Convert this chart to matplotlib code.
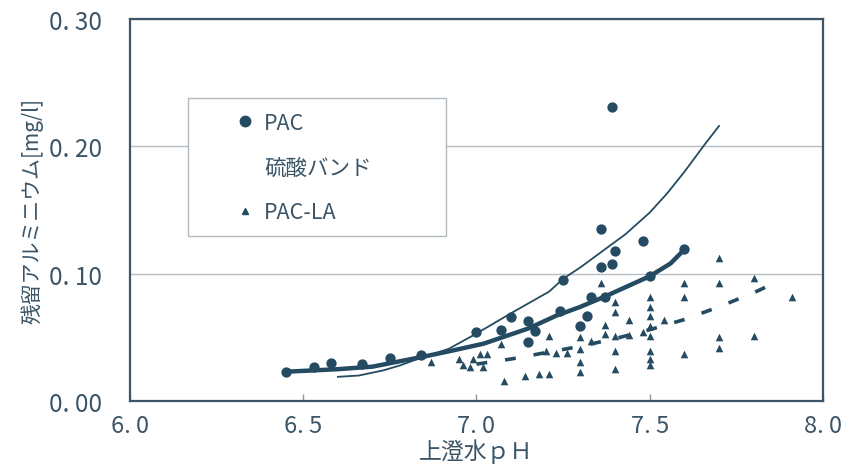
import matplotlib
matplotlib.use("Agg")
import matplotlib.pyplot as plt
from matplotlib.lines import Line2D
from matplotlib.patches import Rectangle

plt.rcParams['font.family'] = ['Noto Sans CJK JP', 'DejaVu Sans']

# PAC 測定値
pac_ph = [6.45, 6.53, 6.58, 6.67, 6.75, 6.84, 7.00, 7.07, 7.10, 7.15, 7.15, 7.17,
          7.24, 7.25, 7.30, 7.32, 7.33, 7.36, 7.37, 7.36, 7.39, 7.39, 7.40, 7.48,
          7.50, 7.60]
pac_al = [0.023, 0.027, 0.030, 0.029, 0.034, 0.036, 0.054, 0.056, 0.066, 0.063, 0.046, 0.055,
          0.071, 0.095, 0.059, 0.067, 0.082, 0.105, 0.082, 0.135, 0.108, 0.231, 0.118, 0.126,
          0.098, 0.119]

# PAC-LA 測定値
la_ph = [6.87, 6.95, 6.99, 7.01, 7.03, 6.98, 7.02, 6.96, 7.07, 7.08, 7.14, 7.18,
         7.21, 7.20, 7.21, 7.23, 7.26, 7.30, 7.30, 7.30, 7.30, 7.33, 7.37, 7.37,
         7.36, 7.40, 7.40, 7.40, 7.40, 7.40, 7.44, 7.44, 7.48, 7.50, 7.50, 7.50,
         7.50, 7.50, 7.50, 7.50, 7.50, 7.54, 7.60, 7.60, 7.60, 7.70, 7.70, 7.70,
         7.70, 7.80, 7.80, 7.91]
la_al = [0.031, 0.033, 0.033, 0.037, 0.037, 0.027, 0.027, 0.028, 0.045, 0.016, 0.020, 0.021,
         0.021, 0.039, 0.051, 0.038, 0.038, 0.050, 0.041, 0.031, 0.023, 0.047, 0.060, 0.053,
         0.093, 0.078, 0.070, 0.051, 0.039, 0.025, 0.064, 0.052, 0.054, 0.082, 0.074, 0.067,
         0.059, 0.051, 0.039, 0.033, 0.028, 0.064, 0.093, 0.082, 0.037, 0.112, 0.093, 0.050,
         0.042, 0.097, 0.051, 0.082]

# 近似曲線
pac_fit_ph = [6.45, 6.6, 6.7, 6.85, 6.92, 7.02, 7.15, 7.19, 7.23, 7.3, 7.37, 7.5, 7.56, 7.6]
pac_fit_al = [0.023, 0.025, 0.027, 0.035, 0.039, 0.045, 0.057, 0.062, 0.067, 0.074, 0.082,
              0.098, 0.108, 0.119]

band_fit_ph = [6.6, 6.66, 6.73, 6.78, 6.83, 6.92, 7.0, 7.1, 7.21, 7.25, 7.3, 7.36,
               7.43, 7.5, 7.55, 7.6, 7.66, 7.7]
band_fit_al = [0.019, 0.020, 0.024, 0.028, 0.033, 0.041, 0.053, 0.069, 0.086, 0.096, 0.105,
               0.117, 0.131, 0.148, 0.163, 0.180, 0.202, 0.216]

la_fit_ph = [7.0, 7.1, 7.2, 7.3, 7.4, 7.5, 7.6, 7.7, 7.8, 7.87]
la_fit_al = [0.029, 0.033, 0.038, 0.043, 0.049, 0.056, 0.064, 0.074, 0.085, 0.094]

x_ticks = [6.0, 6.5, 7.0, 7.5, 8.0]
x_labels = ['6. 0', '6. 5', '7. 0', '7. 5', '8. 0']
y_ticks = [0.0, 0.1, 0.2, 0.3]
y_labels = ['0. 00', '0. 10', '0. 20', '0. 30']

mark = '#244b61'
txt = '#3b5567'

fig = plt.figure(figsize=(8.48, 4.77), dpi=100)
ax = fig.add_axes([0.1533, 0.1572, 0.8172, 0.8008])

ax.plot(band_fit_ph, band_fit_al, color=mark, lw=1.3, zorder=3)
ax.plot(pac_fit_ph, pac_fit_al, color=mark, lw=3.2, solid_capstyle='round', zorder=4)
ax.plot(la_fit_ph, la_fit_al, color=mark, lw=2.6, dashes=(3, 5), zorder=4)
ax.scatter(pac_ph, pac_al, s=55, marker='o', color=mark, linewidths=0, zorder=5)
ax.scatter(la_ph, la_al, s=30, marker='^', color=mark, linewidths=0, zorder=5)

ax.set_xlim(6.0, 8.0)
ax.set_ylim(0.0, 0.30)
ax.set_xticks(x_ticks)
ax.set_xticklabels(x_labels)
ax.set_yticks(y_ticks)
ax.set_yticklabels(y_labels)
ax.tick_params(axis='x', direction='in', length=5, width=1, color='#8a979f',
               pad=9, labelsize=17, labelcolor=txt)
ax.tick_params(axis='y', length=0, pad=20, labelsize=17.5, labelcolor=txt)

ax.set_axisbelow(True)
ax.grid(axis='y', color='#b5bdc2', lw=1)
for s in ax.spines.values():
    s.set_color('#3d5566')
    s.set_linewidth(1.6)

ax.set_xlabel('上澄水ｐＨ', fontsize=16.5, color=txt, labelpad=1)
ax.set_ylabel('残留アルミニウム[mg/l]', fontsize=15, color=txt, labelpad=4)

# 凡例枠
ax.add_patch(Rectangle((0.0837, 0.432), 0.373, 0.361, transform=ax.transAxes,
                       facecolor='white', edgecolor='#b0babf', lw=1, zorder=2))
handles = [
    Line2D([], [], marker='o', ls='none', color=mark, markersize=7.5),
    Line2D([], [], ls='none'),
    Line2D([], [], marker='^', ls='none', color=mark, markersize=5),
]
leg = ax.legend(handles, ['PAC', '硫酸バンド', 'PAC-LA'], loc='upper left',
                bbox_to_anchor=(0.15, 0.757), frameon=False, borderaxespad=0,
                borderpad=0, handlelength=1.0, handletextpad=0.4,
                labelspacing=1.05, prop={'size': 15.5})
for t in leg.get_texts():
    t.set_color(txt)

fig.savefig('out.png', dpi=100)
